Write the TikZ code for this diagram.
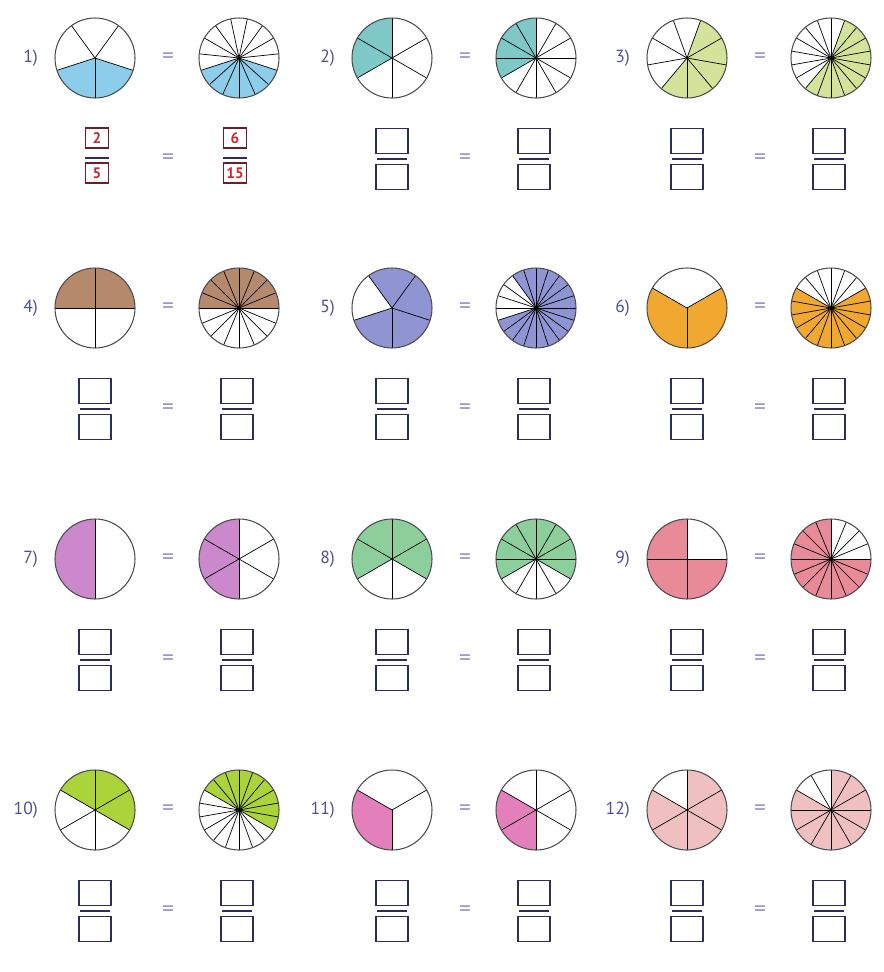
\documentclass[tikz,border=0pt]{standalone}
\usepackage{fontspec}
\setmainfont{PT Sans}

\definecolor{pie1}{RGB}{140,205,235}
\definecolor{pie2}{RGB}{126,200,200}
\definecolor{pie3}{RGB}{212,227,154}
\definecolor{pie4}{RGB}{181,138,108}
\definecolor{pie5}{RGB}{143,149,211}
\definecolor{pie6}{RGB}{240,168,48}
\definecolor{pie7}{RGB}{204,136,204}
\definecolor{pie8}{RGB}{140,207,154}
\definecolor{pie9}{RGB}{233,138,152}
\definecolor{pie10}{RGB}{170,212,58}
\definecolor{pie11}{RGB}{227,127,187}
\definecolor{pie12}{RGB}{240,192,192}
\definecolor{labblue}{RGB}{80,80,150}
\definecolor{boxnavy}{RGB}{45,45,90}
\definecolor{ansred}{RGB}{200,40,50}
\definecolor{ansbrown}{RGB}{110,30,40}

\tikzset{
  rim/.style={draw=black!70, line width=0.9pt},
  spoke/.style={black, line width=0.6pt},
  lab/.style={text=labblue, font=\fontsize{15}{15}\selectfont, anchor=east, inner sep=0pt},
  eqsign/.style={text=labblue!60, font=\fontsize{20}{20}\selectfont, inner sep=0pt},
  fbox/.style={draw=boxnavy, line width=1.1pt, minimum width=0.96cm, minimum height=0.75cm, inner sep=0pt},
  ansbox/.style={draw=ansbrown, line width=1.1pt, minimum width=0.69cm, minimum height=0.6cm, inner sep=0pt,
    text=ansred, font=\bfseries\fontsize{13}{13}\selectfont},
  bar/.style={draw=boxnavy, line width=2pt}
}

% centre, slices, first spoke, shade from, shade to, colour
\newcommand{\fracpie}[6]{%
  \fill[#6] (#1) -- ++(#4:40) arc[start angle=#4, end angle=#5, radius=40] -- cycle;
  \foreach \k in {1,...,#2} \draw[spoke] (#1) -- ++({#3+\k*360/#2}:40);
  \draw[rim] (#1) circle[radius=40];
}
% number, x, y, slices, first spoke, shade from, shade to, slices right, first spoke right
\newcommand{\problem}[9]{%
  \coordinate (L#1) at (#2,-#3);
  \coordinate (R#1) at (#2+144,-#3);
  \node[lab] (n#1) at (#2-57,-#3) {#1)};
  \node[eqsign] (e#1) at (#2+73,-#3) {=};
  \fracpie{L#1}{#4}{#5}{#6}{#7}{pie#1}
  \fracpie{R#1}{#8}{#9}{#6}{#7}{pie#1}
  \node[eqsign] (fe#1) at (#2+73,-#3-101) {=};
}
\newcommand{\blankfrac}[3]{%
  \node[fbox] (#1t) at (#2,-#3-83) {};
  \node[fbox] (#1b) at (#2,-#3-119) {};
  \draw[bar] (#2-15,-#3-101) -- (#2+15,-#3-101);
}

\begin{document}
\begin{tikzpicture}[x=0.03cm, y=0.03cm]
  \useasboundingbox (0,0) rectangle (883,-972);
  % row 1
  \problem{1}{95}{58}{5}{270}{198}{342}{15}{270}
  \problem{2}{392}{58}{6}{90}{90}{210}{12}{90}
  \problem{3}{687}{58}{9}{270}{-130}{70}{18}{270}
  % row 2
  \problem{4}{95}{308}{4}{0}{0}{180}{16}{0}
  \problem{5}{392}{308}{5}{270}{198}{486}{20}{270}
  \problem{6}{687}{308}{3}{270}{150}{390}{18}{270}
  % row 3
  \problem{7}{95}{559}{2}{90}{90}{270}{6}{90}
  \problem{8}{392}{559}{6}{90}{-30}{210}{12}{90}
  \problem{9}{687}{559}{4}{0}{90}{360}{16}{0}
  % row 4
  \problem{10}{95}{810}{6}{90}{-30}{150}{18}{270}
  \problem{11}{392}{810}{3}{270}{150}{270}{6}{90}
  \problem{12}{687}{810}{6}{90}{150}{450}{12}{90}
  % worked answer
  \node[ansbox] (fl1t) at (97,-138) {2};
  \node[ansbox] (fl1b) at (97,-173) {5};
  \draw[bar] (fl1t.south west |- 0,-158) -- (fl1t.south east |- 0,-158);
  \node[ansbox] (fr1t) at (235,-138) {6};
  \node[ansbox] (fr1b) at (235,-173) {15};
  \draw[bar] (fr1t.south west |- 0,-158) -- (fr1t.south east |- 0,-158);
  % empty answers
  \foreach \i/\X/\Y in {2/392/58, 3/687/58, 4/95/308, 5/392/308, 6/687/308,
      7/95/559, 8/392/559, 9/687/559, 10/95/810, 11/392/810, 12/687/810} {
    \blankfrac{fl\i}{\X}{\Y}
    \blankfrac{fr\i}{\X+142}{\Y}
  }
\end{tikzpicture}
\end{document}
